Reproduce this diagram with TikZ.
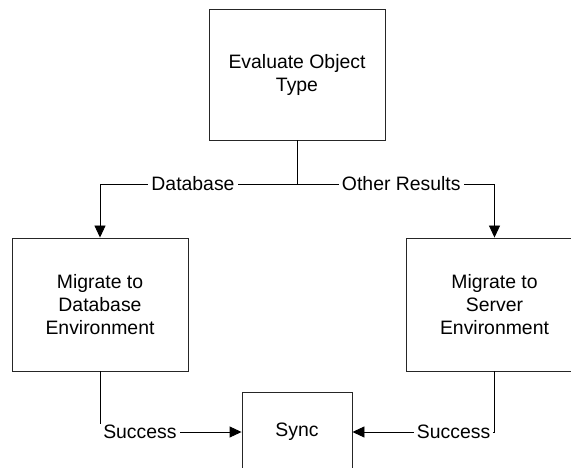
\documentclass[tikz,border=0pt]{standalone}
\usepackage{fontspec}
\setmainfont{Liberation Sans}
\usetikzlibrary{arrows.meta}

\tikzset{
  stepbox/.style={draw=black!85, line width=0.9pt, fill=white, align=center,
    inner sep=0pt, minimum width=176pt, minimum height=133pt,
    font=\fontsize{19.4}{23}\selectfont},
  flow/.style={draw=black, line width=0.9pt},
  flowarrow/.style={flow, -{Triangle[length=12pt,width=11pt]}},
  lbl/.style={fill=white, inner xsep=3pt, inner ysep=1pt,
    font=\fontsize{19.4}{23}\selectfont}
}

\begin{document}
\begin{tikzpicture}[x=1pt, y=-1pt]
  \path[use as bounding box] (0,0) rectangle (571,468);
  \clip (0,0) rectangle (571,468);

  % process boxes
  \node[stepbox, minimum height=131pt] (eval) at (297,74.5) {Evaluate Object\\Type};
  \node[stepbox] (mdb) at (100,304.5) {Migrate to\\Database\\Environment};
  \node[stepbox] (msrv) at (494.5,304.5) {Migrate to\\Server\\Environment};
  \node[stepbox, minimum width=110pt, minimum height=80pt] (sync) at (297,432) {Sync};

  % decision split below the evaluation step
  \coordinate (split) at (297,184);
  \draw[flow] (eval.south) -- (split);
  \draw[flowarrow] (split) -| node[lbl, pos=0.264] {Database} (mdb.north);
  \draw[flowarrow] (split) -| node[lbl, pos=0.264] {Other Results} (msrv.north);

  % both migrations converge on the sync step
  \draw[flowarrow] (mdb.south) |- node[lbl, pos=0.641] {Success} (sync.west);
  \draw[flowarrow] (msrv.south) |- node[lbl, pos=0.644] {Success} (sync.east);
\end{tikzpicture}
\end{document}
